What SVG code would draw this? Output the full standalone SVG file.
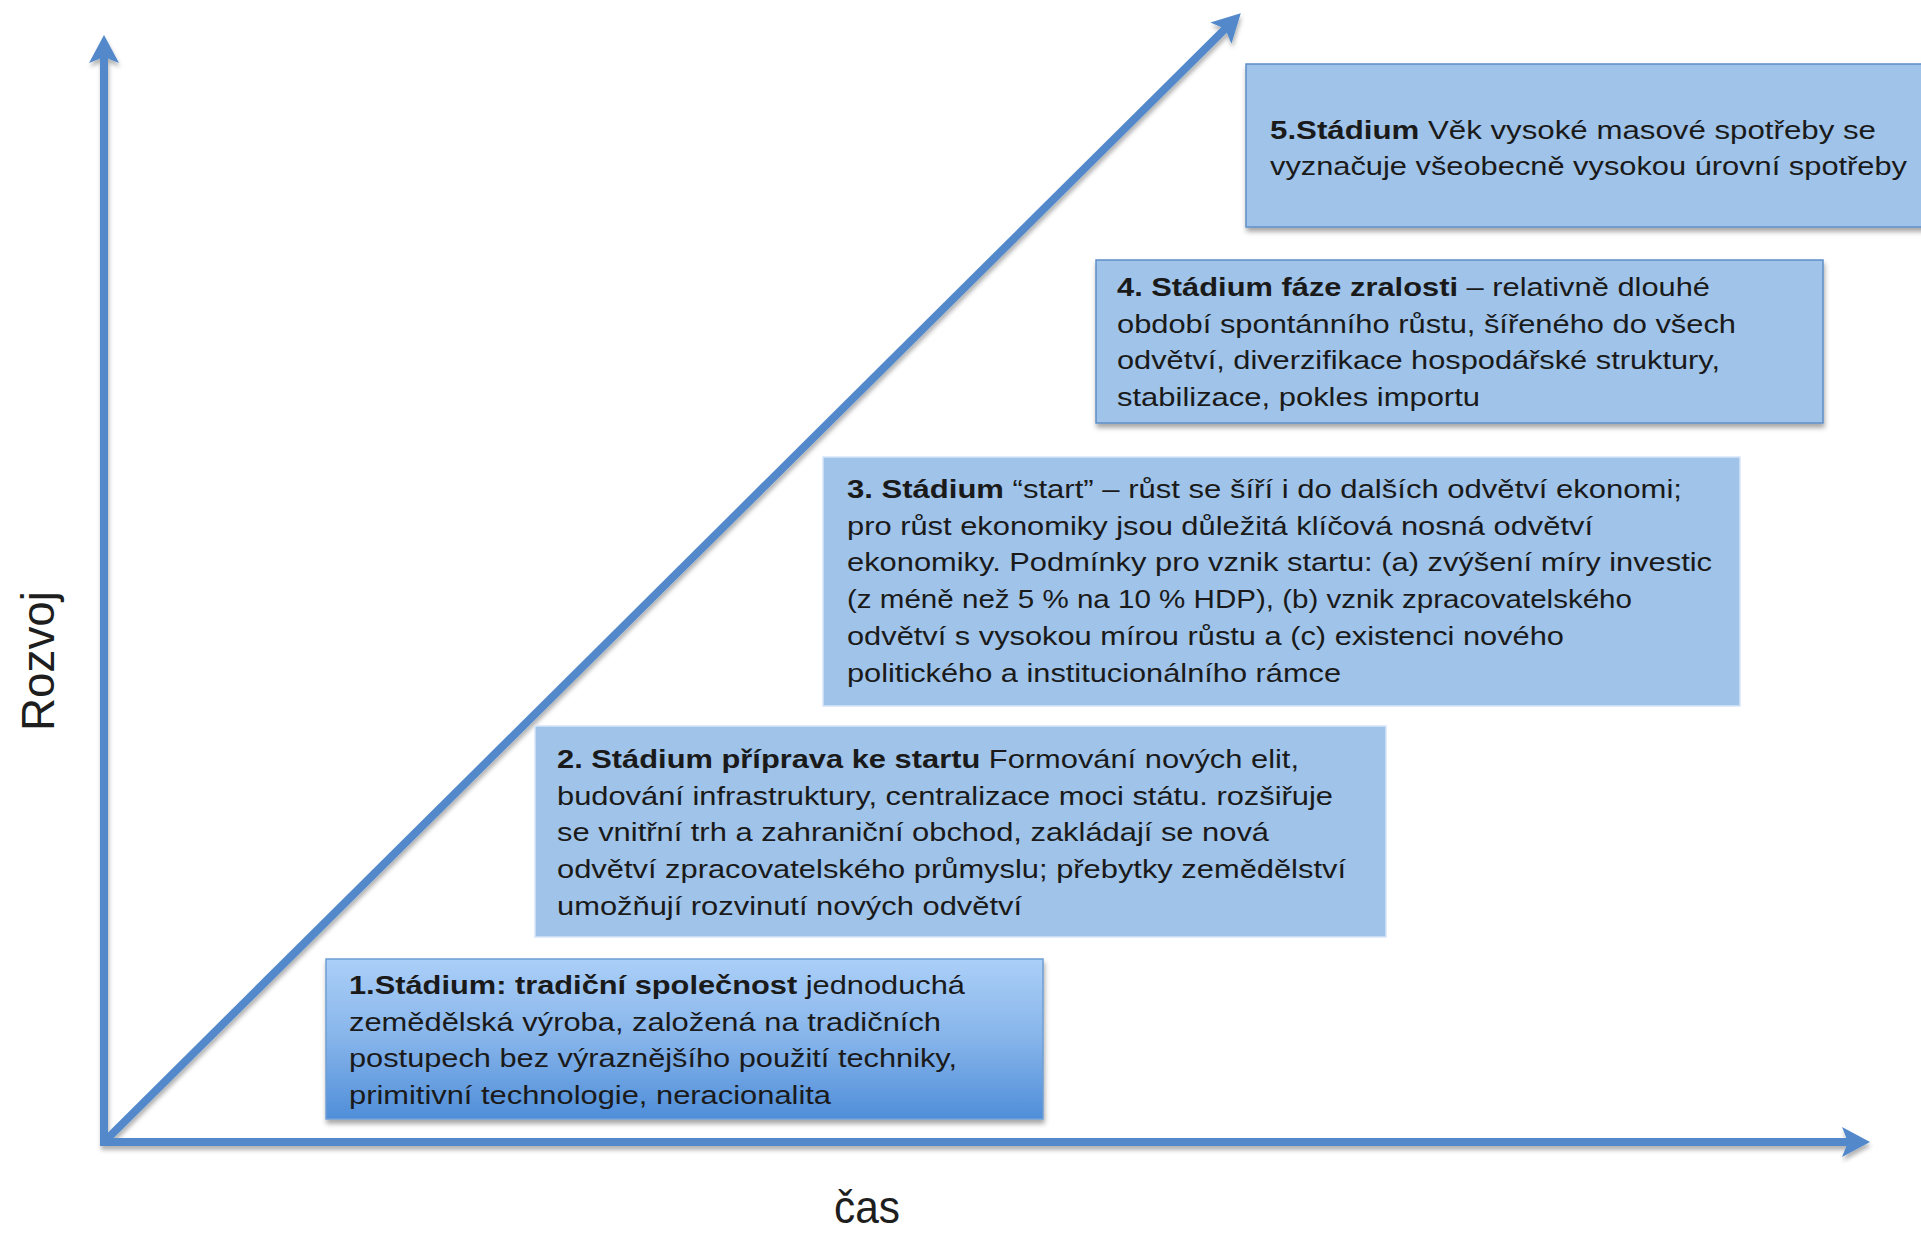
<svg xmlns="http://www.w3.org/2000/svg" width="1921" height="1234" viewBox="0 0 1921 1234">
<style>
.box{fill:#9fc3e9;}
.b45{stroke:#5e8fc8;stroke-width:1.5;}
.b23{stroke:#d6e6f7;stroke-width:1.5;}
.t{font-family:"Liberation Sans",Arial,sans-serif;font-size:26px;fill:#1a1a1a;}
.b{font-weight:bold;}
.ax{stroke:#5289cb;stroke-width:8;fill:none;}
.lab{font-family:"Liberation Sans",Arial,sans-serif;font-size:46px;fill:#1e1e1e;}
</style>
<defs>
<linearGradient id="g1" x1="0" y1="0" x2="0" y2="1">
<stop offset="0" stop-color="#abcff8"/>
<stop offset="0.5" stop-color="#86b4ea"/>
<stop offset="1" stop-color="#4f8ed9"/>
</linearGradient>
<filter id="sh" x="-5%" y="-10%" width="110%" height="130%">
<feDropShadow dx="1" dy="4" stdDeviation="2.5" flood-color="#000" flood-opacity="0.35"/>
</filter>
<filter id="sha" x="-5%" y="-5%" width="110%" height="110%">
<feDropShadow dx="1" dy="4" stdDeviation="2" flood-color="#000" flood-opacity="0.3"/>
</filter>
<marker id="ah" viewBox="0 0 32 32" markerWidth="32" markerHeight="32" refX="12" refY="16" orient="auto" markerUnits="userSpaceOnUse">
<path d="M2,1 L30,16 L2,31 L8,16 z" fill="#5289cb"/>
</marker>
</defs>

<g id="connectors" filter="url(#sha)">
<line class="ax" x1="104" y1="1142" x2="104" y2="53" marker-end="url(#ah)"/>
<line class="ax" x1="100" y1="1142" x2="1852" y2="1142" marker-end="url(#ah)"/>
<line class="ax" x1="104" y1="1142" x2="1228" y2="26" marker-end="url(#ah)"/>
</g>

<g id="stage5">
<rect class="box b45" x="1246" y="64" width="700" height="163" filter="url(#sh)"/>
<text class="t" x="1270" y="139" textLength="606" lengthAdjust="spacingAndGlyphs"><tspan class="b">5.Stádium</tspan>  Věk vysoké masové spotřeby se</text>
<text class="t" x="1270" y="175" textLength="637" lengthAdjust="spacingAndGlyphs">vyznačuje všeobecně vysokou úrovní spotřeby</text>
</g>

<g id="stage4">
<rect class="box b45" x="1096" y="260" width="727" height="163" filter="url(#sh)"/>
<text class="t" x="1117" y="296" textLength="593" lengthAdjust="spacingAndGlyphs"><tspan class="b">4. Stádium fáze zralosti</tspan> – relativně dlouhé</text>
<text class="t" x="1117" y="333" textLength="619" lengthAdjust="spacingAndGlyphs">období spontánního růstu, šířeného do všech</text>
<text class="t" x="1117" y="369" textLength="603" lengthAdjust="spacingAndGlyphs">odvětví, diverzifikace hospodářské struktury,</text>
<text class="t" x="1117" y="406" textLength="363" lengthAdjust="spacingAndGlyphs">stabilizace, pokles importu</text>
</g>

<g id="stage3">
<rect class="box b23" x="823" y="457" width="917" height="249"/>
<text class="t" x="847" y="498" textLength="835" lengthAdjust="spacingAndGlyphs"><tspan class="b">3. Stádium</tspan> “start” – růst se šíří i do dalších odvětví ekonomi;</text>
<text class="t" x="847" y="535" textLength="746" lengthAdjust="spacingAndGlyphs">pro růst ekonomiky jsou důležitá klíčová nosná odvětví</text>
<text class="t" x="847" y="571" textLength="865" lengthAdjust="spacingAndGlyphs">ekonomiky. Podmínky pro vznik startu: (a) zvýšení míry investic</text>
<text class="t" x="847" y="608" textLength="785" lengthAdjust="spacingAndGlyphs">(z méně než 5 % na 10 % HDP), (b) vznik zpracovatelského</text>
<text class="t" x="847" y="645" textLength="717" lengthAdjust="spacingAndGlyphs">odvětví s vysokou mírou růstu a (c) existenci nového</text>
<text class="t" x="847" y="682" textLength="494" lengthAdjust="spacingAndGlyphs">politického a institucionálního rámce</text>
</g>

<g id="stage2">
<rect class="box b23" x="535" y="726" width="851" height="211"/>
<text class="t" x="557" y="768" textLength="742" lengthAdjust="spacingAndGlyphs"><tspan class="b">2. Stádium příprava ke startu</tspan> Formování nových elit,</text>
<text class="t" x="557" y="805" textLength="776" lengthAdjust="spacingAndGlyphs">budování infrastruktury, centralizace moci státu. rozšiřuje</text>
<text class="t" x="557" y="841" textLength="712" lengthAdjust="spacingAndGlyphs">se vnitřní trh a zahraniční obchod, zakládají se nová</text>
<text class="t" x="557" y="878" textLength="789" lengthAdjust="spacingAndGlyphs">odvětví zpracovatelského průmyslu; přebytky zemědělství</text>
<text class="t" x="557" y="915" textLength="465" lengthAdjust="spacingAndGlyphs">umožňují rozvinutí nových odvětví</text>
</g>

<g id="stage1">
<rect x="326" y="959" width="717" height="160" fill="url(#g1)" stroke="#6f9fd4" stroke-width="1.5" filter="url(#sh)"/>
<text class="t" x="349" y="994" textLength="616" lengthAdjust="spacingAndGlyphs"><tspan class="b">1.Stádium: tradiční společnost</tspan> jednoduchá</text>
<text class="t" x="349" y="1031" textLength="592" lengthAdjust="spacingAndGlyphs">zemědělská výroba, založená na tradičních</text>
<text class="t" x="349" y="1067" textLength="608" lengthAdjust="spacingAndGlyphs">postupech bez výraznějšího použití techniky,</text>
<text class="t" x="349" y="1104" textLength="482" lengthAdjust="spacingAndGlyphs">primitivní technologie, neracionalita</text>
</g>

<g id="axis-labels">
<text class="lab" transform="translate(54,731) rotate(-90)" textLength="140" lengthAdjust="spacingAndGlyphs">Rozvoj</text>
<text class="lab" x="834" y="1223" textLength="66" lengthAdjust="spacingAndGlyphs">čas</text>
</g>
</svg>
